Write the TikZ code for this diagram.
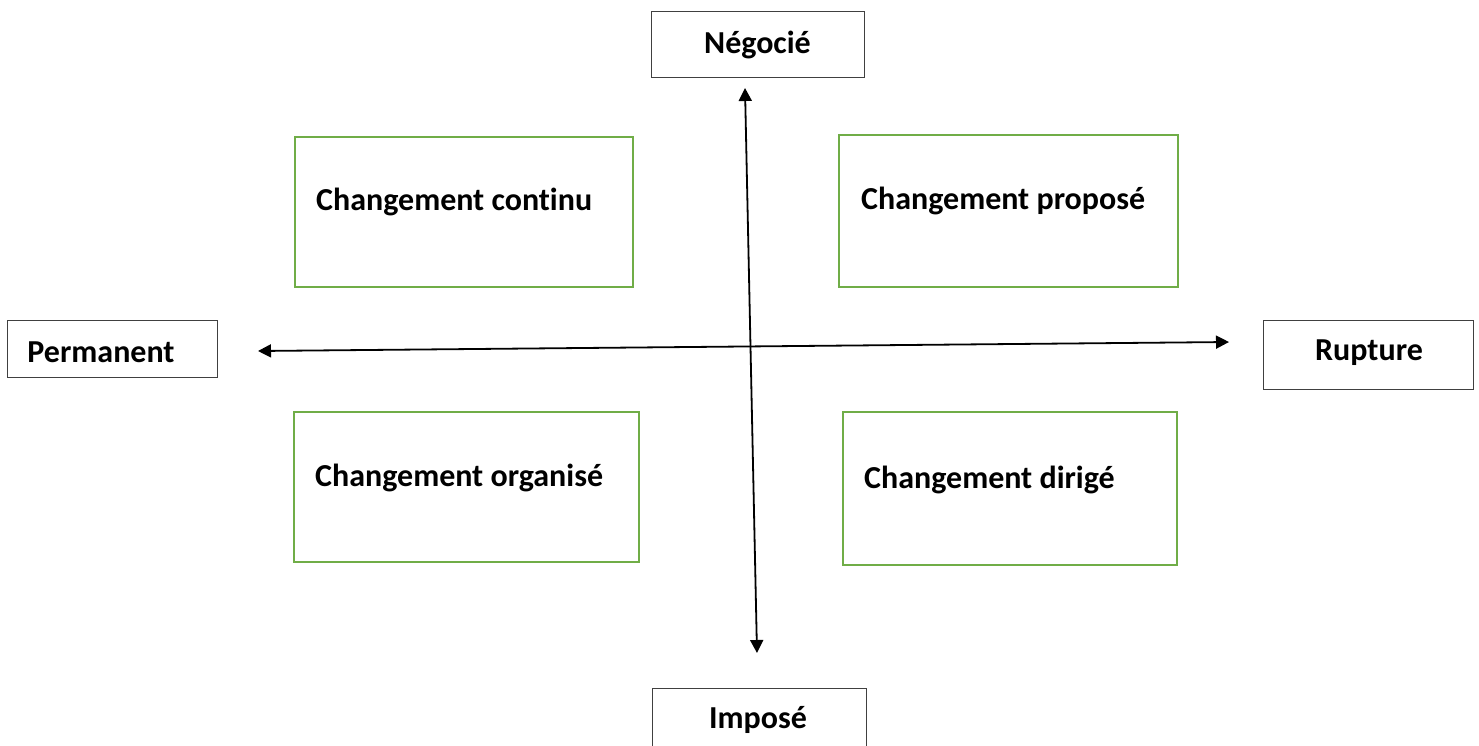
\documentclass[tikz,border=0pt]{standalone}
\usepackage{fontspec}
\setmainfont[RawFeature=-liga]{Carlito}
\usetikzlibrary{arrows.meta}
\definecolor{boxgreen}{HTML}{70AD47}
\definecolor{boxgray}{HTML}{404040}
\tikzset{
  axisbox/.style={draw=boxgray, line width=1.3pt, rectangle, inner sep=0pt, anchor=north west},
  quadbox/.style={draw=boxgreen, line width=2pt, rectangle, inner sep=0pt, anchor=north west},
  lbl/.style={font=\fontsize{32}{38}\selectfont\bfseries, inner sep=0pt},
  axis/.style={line width=1.8pt, {Triangle[width=13pt,length=13pt]}-{Triangle[width=13pt,length=13pt]}}
}
\begin{document}
\begin{tikzpicture}[x=1pt,y=-1pt]
\useasboundingbox (0,0) rectangle (1479,745);
\clip (0,0) rectangle (1479,745);
% axis boxes
\node[axisbox, minimum width=213pt, minimum height=66pt] (negbox) at (651,11) {};
\node[lbl] (neg) at (757.5,45) {Négocié};
\node[axisbox, minimum width=214pt, minimum height=90pt] (impbox) at (652,688) {};
\node[lbl] (imp) at (758,720) {Imposé};
\node[axisbox, minimum width=210pt, minimum height=57pt] (perbox) at (7,320) {};
\node[lbl] (per) at (101,352) {Permanent};
\node[axisbox, minimum width=210pt, minimum height=69pt] (rupbox) at (1263,320) {};
\node[lbl] (rup) at (1369,353) {Rupture};
% quadrant boxes
\node[quadbox, minimum width=338pt, minimum height=150pt] (tl) at (294,136) {};
\node[lbl, anchor=west] (tlt) at (316,201.5) {Changement continu};
\node[quadbox, minimum width=339pt, minimum height=152pt] (tr) at (838,134) {};
\node[lbl, anchor=west] (trt) at (861,200.5) {Changement proposé};
\node[quadbox, minimum width=345pt, minimum height=150pt] (bl) at (293,411) {};
\node[lbl, anchor=west] (blt) at (315,477.5) {Changement organisé};
\node[quadbox, minimum width=334pt, minimum height=153pt] (br) at (842,411) {};
\node[lbl, anchor=west] (brt) at (864,479.5) {Changement dirigé};
% axes
\coordinate (vtop) at (745,88);
\coordinate (vbot) at (757,653);
\coordinate (hleft) at (258,351);
\coordinate (hright) at (1229,342);
\draw[axis] (vtop) -- (vbot);
\draw[axis] (hleft) -- (hright);
\end{tikzpicture}
\end{document}
